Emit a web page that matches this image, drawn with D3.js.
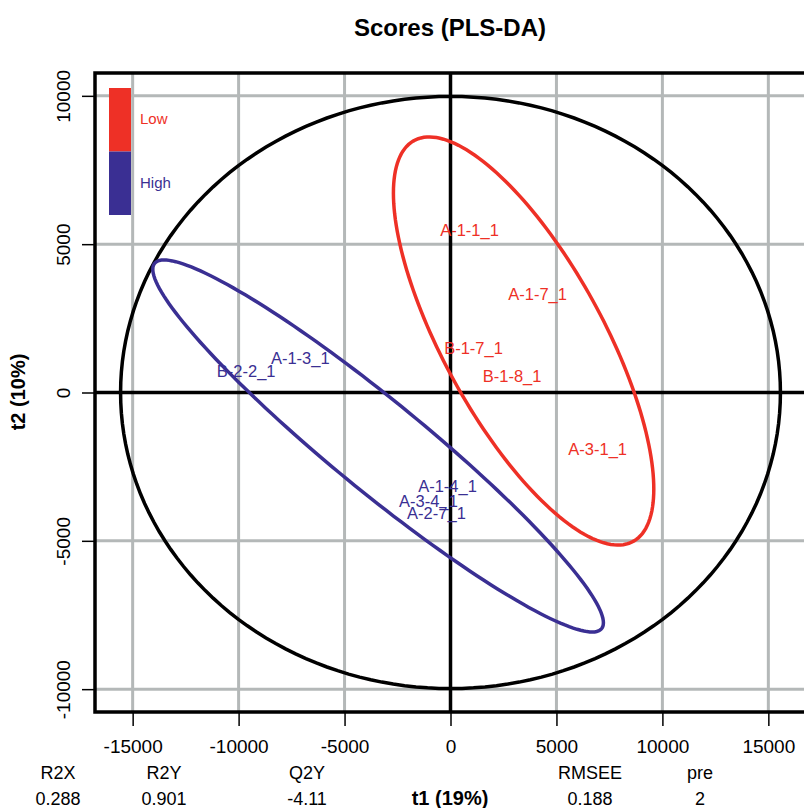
<!DOCTYPE html>
<html><head><meta charset="utf-8">
<script src="https://cdn.jsdelivr.net/npm/d3@7"></script>
<style>body{margin:0;background:#fff}svg{display:block;font-family:"Liberation Sans",Arial,sans-serif}</style>
</head><body>
<svg id="c" width="804" height="808"></svg>
<script>
// ---- data ----
const lowLabels = ["A-1-1_1","A-1-7_1","B-1-7_1","B-1-8_1","A-3-1_1"];
const lowX = [898, 4111, 1087, 2906, 6947];
const lowY = [5454, 3320, 1500, 533, -1905];
const highLabels = ["B-2-2_1","A-1-3_1","A-1-4_1","A-3-4_1","A-2-7_1"];
const highX = [-9641, -7089, -142, -1040, -662];
const highY = [701, 1163, -3152, -3681, -4062];
const groupNames = ["Low","High"];
const groupColors = ["#EE3026","#3A2F93"];
// group ellipses: centre, half-extents, correlation
const ellCx = [3450, -3417];
const ellCy = [1736, -1803];
const ellSx = [6144, 10633];
const ellSy = [6878, 6271];
const ellRho = [-0.725, -0.95];
// Hotelling ellipse half-axes
const hotA = 15570, hotB = 9980;
const xTicks = [-15000,-10000,-5000,0,5000,10000,15000];
const yTicks = [-10000,-5000,0,5000,10000];
const statNames = ["R2X","R2Y","Q2Y","","RMSEE","pre"];
const statValues = ["0.288","0.901","-4.11","t1 (19%)","0.188","2"];
const statPos = [58,164,307,450,590,700];

// ---- drawing ----
const svg = d3.select("#c");
const L=95, R=806, T=73, B=712;
const x = d3.scaleLinear().domain([-16777,16777]).range([L,R]);
const y = d3.scaleLinear().domain([-10770,10770]).range([B,T]);

svg.append("defs").append("clipPath").attr("id","clip")
  .append("rect").attr("x",L).attr("y",T).attr("width",R-L).attr("height",B-T);

const g = svg.append("g").attr("clip-path","url(#clip)");
// grid
g.selectAll(".gx").data(xTicks).join("line")
  .attr("x1",d=>x(d)).attr("x2",d=>x(d)).attr("y1",T).attr("y2",B)
  .attr("stroke","#B4B8B8").attr("stroke-width",3);
g.selectAll(".gy").data(yTicks).join("line")
  .attr("y1",d=>y(d)).attr("y2",d=>y(d)).attr("x1",L).attr("x2",R)
  .attr("stroke","#B4B8B8").attr("stroke-width",3);
// zero axes
g.append("line").attr("x1",x(0)).attr("x2",x(0)).attr("y1",T).attr("y2",B).attr("stroke","#000").attr("stroke-width",3.5);
g.append("line").attr("y1",y(0)).attr("y2",y(0)).attr("x1",L).attr("x2",R).attr("stroke","#000").attr("stroke-width",3.5);

const ts = d3.range(0, 361, 2).map(d=>d*Math.PI/180);
const line = d3.line().x(d=>x(d[0])).y(d=>y(d[1])).curve(d3.curveLinearClosed);
// Hotelling ellipse
g.append("path").attr("d", line(ts.map(t=>[hotA*Math.cos(t), hotB*Math.sin(t)])))
  .attr("fill","none").attr("stroke","#000").attr("stroke-width",3.5);
// group ellipses
groupNames.forEach((n,i)=>{
  const pts = ts.map(t=>[ellCx[i]+ellSx[i]*Math.cos(t),
    ellCy[i]+ellSy[i]*(ellRho[i]*Math.cos(t)+Math.sqrt(1-ellRho[i]*ellRho[i])*Math.sin(t))]);
  g.append("path").attr("d", line(pts)).attr("fill","none")
    .attr("stroke",groupColors[i]).attr("stroke-width",3.5);
});
// labels
function labels(names, xs, ys, col){
  svg.selectAll(null).data(names).join("text")
    .attr("x",(d,i)=>x(xs[i])).attr("y",(d,i)=>y(ys[i])).attr("dy","0.35em")
    .attr("text-anchor","middle").attr("font-size",16.5).attr("fill",col).text(d=>d);
}
labels(lowLabels, lowX, lowY, groupColors[0]);
labels(highLabels, highX, highY, groupColors[1]);

// legend
groupNames.forEach((n,i)=>{
  svg.append("rect").attr("x",109).attr("y",88+i*63.5).attr("width",22).attr("height",63.5).attr("fill",groupColors[i]);
  svg.append("text").attr("x",140).attr("y",119+i*64).attr("dy","0.35em").attr("font-size",15).attr("fill",groupColors[i]).text(n);
});

// border
svg.append("rect").attr("x",L).attr("y",T).attr("width",R-L).attr("height",B-T).attr("fill","none").attr("stroke","#000").attr("stroke-width",3.5);

// axes
const fmt = d => String(d);
const xa = svg.append("g").attr("transform",`translate(0,${B})`)
  .call(d3.axisBottom(x).tickValues(xTicks).tickSize(14).tickPadding(14).tickFormat(fmt));
xa.select(".domain").remove();
xa.selectAll("line").attr("stroke","#000").attr("stroke-width",1.5);
xa.selectAll("text").attr("font-size",19).attr("font-family","Liberation Sans, Arial, sans-serif").attr("fill","#000");
const ya = svg.append("g").attr("transform",`translate(${L},0)`)
  .call(d3.axisLeft(y).tickValues(yTicks).tickSize(13).tickPadding(0).tickFormat(fmt));
ya.select(".domain").remove();
ya.selectAll("line").attr("stroke","#000").attr("stroke-width",1.5);
ya.selectAll("text").attr("x",null).attr("dy",null).attr("text-anchor","middle")
  .attr("transform","translate(-25,0) rotate(-90)").attr("y",0)
  .attr("font-size",19).attr("font-family","Liberation Sans, Arial, sans-serif").attr("fill","#000");

// title and axis labels
svg.append("text").attr("x",450).attr("y",36).attr("text-anchor","middle").attr("font-size",24).attr("font-weight","bold").text("Scores (PLS-DA)");
svg.append("text").attr("transform","translate(25,392) rotate(-90)").attr("text-anchor","middle").attr("font-size",20).attr("font-weight","bold").text("t2 (10%)");

// stats
statNames.forEach((s,i)=>{
  svg.append("text").attr("x",statPos[i]).attr("y",779).attr("text-anchor","middle").attr("font-size",18).text(s);
  svg.append("text").attr("x",statPos[i]).attr("y",805).attr("text-anchor","middle").attr("font-size",i===3?20:18)
    .attr("font-weight",i===3?"bold":"normal").text(statValues[i]);
});
</script>
</body></html>
